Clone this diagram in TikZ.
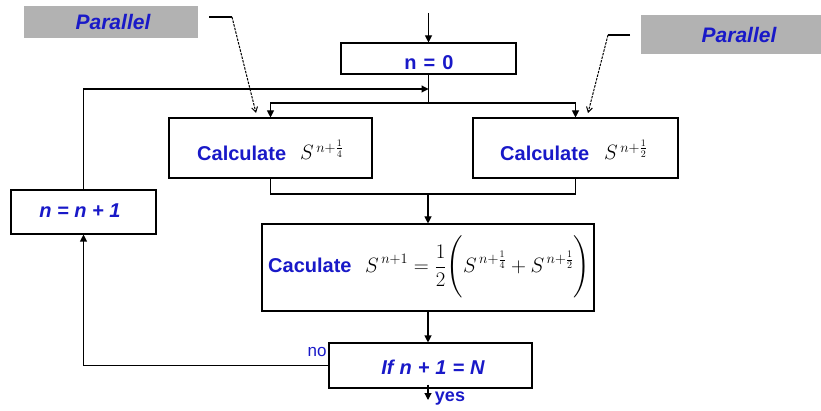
\documentclass[tikz,border=0pt]{standalone}
\usepackage{amsmath}
\usepackage{exscale}
\usepackage{fontspec}
\setmainfont{Liberation Sans}
\usetikzlibrary{arrows.meta,calc}
\definecolor{txtblue}{RGB}{25,25,200}
\definecolor{boxgray}{RGB}{178,178,178}
\begin{document}
\begin{tikzpicture}[x=1pt,y=-1pt,
  box/.style={draw=black,line width=1.1pt,fill=white,inner sep=0pt,anchor=center},
  graybox/.style={fill=boxgray,inner sep=0pt,anchor=center},
  lbl/.style={text=txtblue,inner sep=0pt,font=\fontsize{20}{24}\selectfont\bfseries},
  ilbl/.style={text=txtblue,inner sep=0pt,font=\fontsize{20}{24}\selectfont\bfseries\itshape},
  mth/.style={text=black,inner sep=0pt,font=\fontsize{20}{24}\selectfont},
  conn/.style={line width=1.1pt,-{Triangle[width=7pt,length=7pt]}},
  plain/.style={line width=1.1pt},
  hint/.style={line width=1pt,-{Straight Barb[width=6pt,length=5pt]}},
]
\useasboundingbox (0,0) rectangle (821,411);
% gray labels
\node[graybox,minimum width=174pt,minimum height=32pt] (parL) at (111,22) {};
\node[ilbl,font=\fontsize{21}{24}\selectfont\bfseries\itshape] (parLt) at (113,22) {Parallel};
\node[graybox,minimum width=181pt,minimum height=39pt] (parR) at (731.5,34.5) {};
\node[ilbl,font=\fontsize{21}{24}\selectfont\bfseries\itshape] (parRt) at (739,35) {Parallel};
% boxes
\node[box,minimum width=175pt,minimum height=31pt] (n0) at (428.5,58.5) {};
\node[lbl] (n0t) at (429,63) {n\hspace{0.35em}=\hspace{0.35em}0};
\node[box,minimum width=203pt,minimum height=60pt] (calcL) at (270.5,148) {};
\node[lbl,anchor=west] (calcLt) at (197,153) {Calculate};
\node[mth,anchor=west] (calcLm) at (300,150) {$S^{\,n+\frac{1}{4}}$};
\node[box,minimum width=205pt,minimum height=60pt] (calcR) at (575.5,148) {};
\node[lbl,anchor=west] (calcRt) at (500,153) {Calculate};
\node[mth,anchor=west] (calcRm) at (604,150) {$S^{\,n+\frac{1}{2}}$};
\node[box,minimum width=332pt,minimum height=87pt] (big) at (428,267.5) {};
\node[lbl,anchor=west] (bigt) at (268,265) {Caculate};
\node[mth,anchor=west] (bigm) at (365,267) {$\displaystyle S^{\,n+1}=\frac{1}{2}\Biggl(S^{\,n+\frac{1}{4}}+S^{\,n+\frac{1}{2}}\Biggr)$};
\node[box,minimum width=203pt,minimum height=45pt] (ifb) at (430.5,365.5) {};
\node[ilbl] (ift) at (433,367) {If\hspace{0.3em}n\hspace{0.3em}+\hspace{0.3em}1\hspace{0.3em}=\hspace{0.3em}N};
\node[box,minimum width=145pt,minimum height=44pt] (inc) at (83.5,212) {};
\node[ilbl] (inct) at (80,211) {n = n + 1};
\node[text=txtblue,inner sep=0pt,font=\fontsize{17}{20}\selectfont] (no) at (317,352) {no};
\node[lbl,font=\fontsize{18}{20}\selectfont\bfseries] (yes) at (450,399) {yes};
% coordinates
\coordinate (top) at (428.5,13);
\coordinate (split) at (428.5,103);
\coordinate (loopend) at (428.5,89);
\coordinate (merge) at (428,194);
\coordinate (yesend) at (428,400);
\coordinate (hL0) at (209,17);
\coordinate (hL1) at (232,17);
\coordinate (hL2) at (256,113);
\coordinate (hR0) at (630,35);
\coordinate (hR1) at (608,35);
\coordinate (hR2) at (588,113);
% connectors
\draw[conn] (top) -- (n0.north);
\draw[plain] (n0.south) -- (split);
\draw[conn] (split) -| (calcL.north);
\draw[conn] (split) -| (calcR.north);
\draw[conn] (inc.north) |- (loopend);
\draw[plain] (calcL.south) |- (merge) -| (calcR.south);
\draw[conn] (merge) -- (big.north);
\draw[conn] (big.south) -- (big.south |- ifb.north);
\draw[conn] (ifb.west) -| (inc.south);
\draw[conn] (ifb.south -| yesend) ++(0,-4) -- (yesend);
\draw[plain] (hL0) -- (hL1);
\draw[hint,dash pattern=on 2.5pt off 1.2pt] (hL1) -- (hL2);
\draw[plain] (hR0) -- (hR1);
\draw[hint,dash pattern=on 2.5pt off 1.2pt] (hR1) -- (hR2);
\end{tikzpicture}
\end{document}
